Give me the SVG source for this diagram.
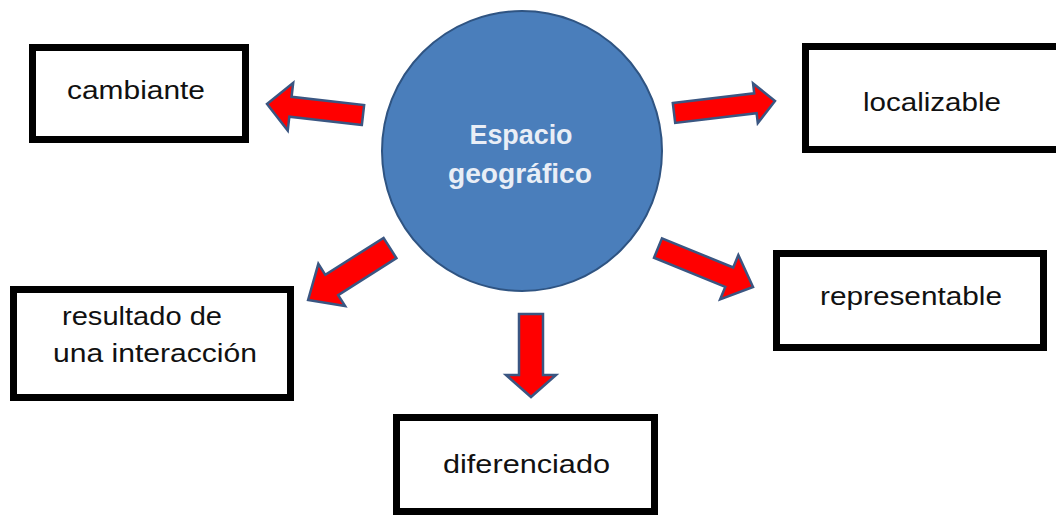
<svg xmlns="http://www.w3.org/2000/svg" width="1056" height="515" viewBox="0 0 1056 515">
<style>
.box{fill:#fff;stroke:#000;stroke-width:7}
.lbl{font-family:"Liberation Sans",Arial,sans-serif;font-size:26px;fill:#111}
.ctr{font-family:"Liberation Sans",Arial,sans-serif;font-size:27px;font-weight:bold;fill:#e9eef6;text-anchor:middle}
.arr{fill:#ff0000;stroke:#3a5682;stroke-width:2.5;stroke-linejoin:miter}
</style>
<rect width="1056" height="515" fill="#fff"/>
<g id="connectors">
<path class="arr" transform="translate(363,115) rotate(186.5)" d="M0,-10 L73,-10 L73,-24 L96.6,0 L73,24 L73,10 L0,10 Z"/>
<path class="arr" transform="translate(674,113) rotate(-6.8)" d="M0,-10 L82,-10 L82,-20 L101.7,0 L82,20 L82,10 L0,10 Z"/>
<path class="arr" transform="translate(390,248) rotate(147.6)" d="M0,-12 L69,-12 L69,-25 L97,0 L69,25 L69,12 L0,12 Z"/>
<path class="arr" transform="translate(658,248) rotate(22.3)" d="M0,-10.5 L77,-10.5 L77,-24 L102.7,0 L77,24 L77,10.5 L0,10.5 Z"/>
<path class="arr" transform="translate(531,314) rotate(90)" d="M0,-12 L61,-12 L61,-25 L83,0 L61,25 L61,12 L0,12 Z"/>
</g>
<g id="node-center">
<circle cx="522" cy="151" r="140" fill="#4a7ebb" stroke="#2f5482" stroke-width="2"/>
<text class="ctr" x="521" y="144" textLength="103" lengthAdjust="spacingAndGlyphs">Espacio</text>
<text class="ctr" x="520" y="183" textLength="144" lengthAdjust="spacingAndGlyphs">geográfico</text>
</g>
<g id="node-cambiante">
<rect class="box" x="32.5" y="47.5" width="213" height="92"/>
<text class="lbl" x="67" y="99" textLength="138" lengthAdjust="spacingAndGlyphs">cambiante</text>
</g>
<g id="node-localizable">
<rect class="box" x="805.5" y="46.5" width="260" height="103"/>
<text class="lbl" x="863" y="111" textLength="138" lengthAdjust="spacingAndGlyphs">localizable</text>
</g>
<g id="node-resultado">
<rect class="box" x="13.5" y="289.5" width="277" height="108"/>
<text class="lbl" x="62" y="325" textLength="160" lengthAdjust="spacingAndGlyphs">resultado de</text>
<text class="lbl" x="53" y="362" textLength="204" lengthAdjust="spacingAndGlyphs">una interacción</text>
</g>
<g id="node-representable">
<rect class="box" x="776.5" y="253.5" width="267" height="94"/>
<text class="lbl" x="820" y="305" textLength="182" lengthAdjust="spacingAndGlyphs">representable</text>
</g>
<g id="node-diferenciado">
<rect class="box" x="396.5" y="417.5" width="258" height="94"/>
<text class="lbl" x="443" y="473" textLength="167" lengthAdjust="spacingAndGlyphs">diferenciado</text>
</g>
</svg>
